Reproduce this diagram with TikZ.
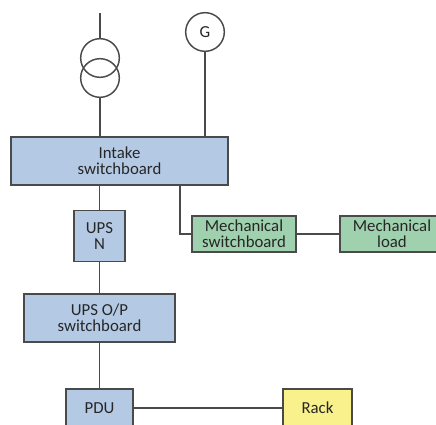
\documentclass[tikz,border=0pt]{standalone}
\usepackage{fontspec}
\setmainfont{Carlito}
\usepackage{xcolor}
\usetikzlibrary{calc}
\definecolor{boardblue}{HTML}{B4CAE4}
\definecolor{mechgreen}{HTML}{A0D1AF}
\definecolor{rackyellow}{HTML}{F9F18C}
\definecolor{wire}{HTML}{4A4A4A}
\tikzset{
  wireline/.style={draw=wire, line width=1.1pt},
  board/.style={wireline, fill=boardblue, inner sep=0pt, align=center, text=black!85, font=\fontsize{12.6}{12}\selectfont},
  mech/.style={board, fill=mechgreen},
  rack/.style={board, fill=rackyellow},
  ring/.style={wireline, circle, inner sep=0pt, minimum size=29pt, text=black!85, font=\fontsize{12.6}{12}\selectfont}
}
\begin{document}
\begin{tikzpicture}[x=0.75pt,y=-0.75pt]
\useasboundingbox (0,0) rectangle (436,425);
\clip (0,0) rectangle (436,425);
\coordinate (feed) at (100,13);
\node[ring] (tx1) at (100,58) {};
\node[ring] (tx2) at (100,78) {};
\node[ring] (gen) at (205,32) {G};
\node[board, minimum width=162.75pt, minimum height=36pt] (intake) at (119.5,161) {Intake\\switchboard};
\node[board, minimum width=38.25pt, minimum height=38.25pt] (upsn) at (99.5,236) {UPS\\N};
\node[board, minimum width=113.25pt, minimum height=36pt] (upsop) at (99.5,318) {UPS O/P\\switchboard};
\node[board, minimum width=50.25pt, minimum height=28.5pt] (pdu) at (99.5,408) {PDU};
\node[rack, minimum width=51.75pt, minimum height=28.5pt] (rack) at (317.5,408) {Rack};
\node[mech, minimum width=78pt, minimum height=27pt] (mechsw) at (244,234) {Mechanical\\switchboard};
\node[mech, minimum width=78pt, minimum height=27pt] (mechload) at (392,234) {Mechanical\\load};
\coordinate (mechtap) at (180,185);
\draw[wireline] (feed) -- (tx1.north);
\draw[wireline] (tx2.south) -- (tx2.south |- intake.north);
\draw[wireline] (gen.south) -- (gen.south |- intake.north);
\draw[wireline] (upsn.north) -- (upsn.north |- intake.south);
\draw[wireline] (upsn.south) -- (upsop.north);
\draw[wireline] (upsop.south) -- (pdu.north);
\draw[wireline] (pdu.east) -- (rack.west);
\draw[wireline] (mechtap) |- (mechsw.west);
\draw[wireline] (mechsw.east) -- (mechload.west);
\end{tikzpicture}
\end{document}
